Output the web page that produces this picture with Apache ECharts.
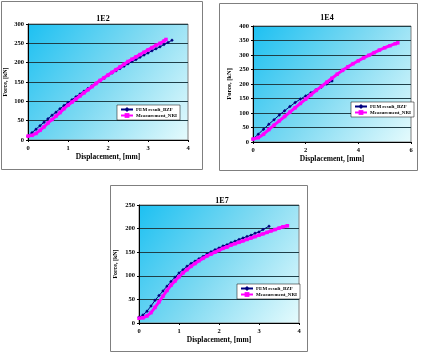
<!DOCTYPE html>
<html>
<head>
<meta charset="utf-8">
<script src="https://cdn.jsdelivr.net/npm/echarts@6/dist/echarts.min.js"></script>
<style>
  html, body { margin: 0; padding: 0; background: #fff; }
  #main { width: 428px; height: 356px; }
</style>
</head>
<body>
<div id="main"></div>
<script>
// 1E2
var fem1E2X = [0, 0.1, 0.2, 0.3, 0.4, 0.5, 0.6, 0.7, 0.8, 0.9, 1.0, 1.1, 1.2, 1.3, 1.4, 1.5, 1.6, 1.7, 1.8, 1.9, 2.0, 2.1, 2.2, 2.3, 2.4, 2.5, 2.6, 2.7, 2.8, 2.9, 3.0, 3.1, 3.2, 3.3, 3.4, 3.5, 3.6];
var fem1E2Y = [10, 19, 28, 37, 46, 55, 64, 72, 81, 89, 97, 104, 112, 119, 126, 133, 140, 147, 154, 160, 167, 173, 179, 185, 191, 197, 203, 208, 214, 220, 225, 231, 236, 241, 247, 252, 258];
var meas1E2X = [0, 0.1, 0.2, 0.3, 0.4, 0.5, 0.6, 0.7, 0.8, 0.9, 1.0, 1.1, 1.2, 1.3, 1.4, 1.5, 1.6, 1.7, 1.8, 1.9, 2.0, 2.1, 2.2, 2.3, 2.4, 2.5, 2.6, 2.7, 2.8, 2.9, 3.0, 3.1, 3.2, 3.3, 3.4, 3.45];
var meas1E2Y = [10, 12, 17, 25, 34, 44, 53, 62, 71, 81, 90, 98, 106, 114, 122, 130, 138, 146, 154, 161, 168, 175, 182, 189, 196, 203, 209, 215, 221, 227, 233, 239, 245, 250, 256, 260];

// 1E4
var fem1E4X = [0, 0.2, 0.4, 0.6, 0.8, 1.0, 1.2, 1.4, 1.6, 1.8, 2.0, 2.2, 2.4, 2.6, 2.8, 3.0];
var fem1E4Y = [10, 27, 44, 61, 77, 93, 108, 122, 136, 148, 159, 170, 180, 190, 200, 210];
var meas1E4X = [0, 0.2, 0.4, 0.6, 0.8, 1.0, 1.2, 1.4, 1.6, 1.8, 2.0, 2.2, 2.4, 2.6, 2.8, 3.0, 3.2, 3.4, 3.6, 3.8, 4.0, 4.2, 4.4, 4.6, 4.8, 5.0, 5.2, 5.4, 5.5];
var meas1E4Y = [10, 15, 27, 43, 58, 73, 88, 103, 118, 133, 148, 163, 178, 192, 206, 220, 234, 247, 259, 270, 280, 290, 299, 308, 317, 325, 332, 339, 342];

// 1E7
var fem1E7X = [0, 0.1, 0.2, 0.3, 0.4, 0.5, 0.6, 0.7, 0.8, 0.9, 1.0, 1.1, 1.2, 1.3, 1.4, 1.5, 1.6, 1.7, 1.8, 1.9, 2.0, 2.1, 2.2, 2.3, 2.4, 2.5, 2.6, 2.7, 2.8, 2.9, 3.0, 3.1, 3.25];
var fem1E7Y = [12, 17, 25, 36, 48, 58, 68, 78, 88, 97, 106, 113, 120, 126, 131, 136, 141, 146, 151, 155, 159, 163, 166, 170, 173, 177, 180, 183, 186, 190, 193, 198, 205];
var meas1E7X = [0, 0.1, 0.2, 0.3, 0.4, 0.5, 0.6, 0.7, 0.8, 0.9, 1.0, 1.1, 1.2, 1.3, 1.4, 1.5, 1.6, 1.7, 1.8, 1.9, 2.0, 2.1, 2.2, 2.3, 2.4, 2.5, 2.6, 2.7, 2.8, 2.9, 3.0, 3.1, 3.2, 3.3, 3.4, 3.5, 3.6, 3.71];
var meas1E7Y = [10, 11, 15, 22, 33, 45, 57, 69, 80, 89, 98, 106, 113, 120, 126, 132, 137, 142, 146, 150, 154, 158, 161, 165, 168, 171, 174, 177, 180, 183, 186, 189, 192, 195, 198, 201, 204, 206];

var titles = ['1E2', '1E4', '1E7'];
var xMax = [4, 6, 4];
var xStep = [1, 2, 1];
var yMax = [300, 400, 250];
var legendNames = ['FEM result_BZF', 'Measurement_NRI'];

function zip(xs, ys) {
  var out = [];
  for (var i = 0; i < xs.length; i++) out.push([xs[i], ys[i]]);
  return out;
}

var femData = [zip(fem1E2X, fem1E2Y), zip(fem1E4X, fem1E4Y), zip(fem1E7X, fem1E7Y)];
var measData = [zip(meas1E2X, meas1E2Y), zip(meas1E4X, meas1E4Y), zip(meas1E7X, meas1E7Y)];

var serif = '"Liberation Serif", "DejaVu Serif", serif';

// panel layout: frame, plot, title, legend
var panels = [
  { frame: [1, 1, 201, 168], grid: [28, 24, 160, 116], title: [98, 10], legend: [117, 105], nameGap: 20, nameSize: 6 },
  { frame: [219, 3, 198, 167], grid: [253, 26, 158, 116], title: [322, 9], legend: [351, 102], nameGap: 20, nameSize: 6.5 },
  { frame: [110, 185, 197, 166], grid: [139, 205, 160, 118], title: [217, 192], legend: [237, 284], nameGap: 21, nameSize: 6 }
];

var bg = new echarts.graphic.LinearGradient(0, 0, 1, 1, [
  { offset: 0, color: '#1cc0f2' },
  { offset: 0.5, color: '#80daf2' },
  { offset: 1, color: '#e6fbfd' }
]);

var option = {
  backgroundColor: '#fff',
  animation: false,
  title: [], grid: [], xAxis: [], yAxis: [], series: [], legend: [],
  graphic: []
};

panels.forEach(function (p, i) {
  option.graphic.push({
    type: 'rect',
    shape: { x: p.frame[0] + 0.5, y: p.frame[1] + 0.5, width: p.frame[2], height: p.frame[3] },
    style: { fill: 'none', stroke: '#7f7f7f', lineWidth: 1 },
    z: -1
  });
  option.title.push({
    text: titles[i],
    left: p.title[0], top: p.title[1],
    textAlign: 'center',
    textStyle: { fontFamily: serif, fontSize: 8, fontWeight: 'bold', color: '#000' }
  });
  option.grid.push({
    left: p.grid[0], top: p.grid[1], width: p.grid[2], height: p.grid[3],
    show: true, backgroundColor: bg, borderColor: '#808080', borderWidth: 1
  });
  option.xAxis.push({
    type: 'value', gridIndex: i, min: 0, max: xMax[i], interval: xStep[i],
    name: 'Displacement, [mm]', nameLocation: 'middle', nameGap: 13,
    nameTextStyle: { fontFamily: serif, fontSize: 7.5, fontWeight: 'bold', color: '#000' },
    axisLine: { lineStyle: { color: '#000', width: 1 } },
    axisTick: { show: true, length: 2, lineStyle: { color: '#000' } },
    axisLabel: { fontFamily: serif, fontSize: 6.5, fontWeight: 'bold', color: '#000', margin: 5 },
    splitLine: { show: false }
  });
  option.yAxis.push({
    type: 'value', gridIndex: i, min: 0, max: yMax[i], interval: 50,
    name: 'Force, [kN]', nameLocation: 'middle', nameGap: p.nameGap, nameRotate: 90,
    nameTextStyle: { fontFamily: serif, fontSize: p.nameSize, fontWeight: 'bold', color: '#000' },
    axisLine: { show: true, lineStyle: { color: '#000', width: 1 } },
    axisTick: { show: true, length: 2, lineStyle: { color: '#000' } },
    axisLabel: { fontFamily: serif, fontSize: 6.5, fontWeight: 'bold', color: '#000', margin: 4 },
    splitLine: { show: true, lineStyle: { color: '#1f3f48', width: 1 } }
  });
  option.series.push({
    name: legendNames[0], type: 'line', xAxisIndex: i, yAxisIndex: i,
    data: femData[i],
    symbol: 'diamond', symbolSize: 3.5, showSymbol: true,
    lineStyle: { color: '#000080', width: 1 },
    itemStyle: { color: '#000080' },
    z: 2
  });
  option.series.push({
    name: legendNames[1], type: 'line', xAxisIndex: i, yAxisIndex: i,
    data: measData[i],
    symbol: 'rect', symbolSize: 3.5, showSymbol: true,
    lineStyle: { color: '#ff00ff', width: 3 },
    itemStyle: { color: '#ff00ff' },
    z: 3
  });
  option.legend.push({
    data: legendNames,
    orient: 'vertical',
    left: p.legend[0], top: p.legend[1],
    backgroundColor: '#fff', borderColor: '#000', borderWidth: 0.5,
    padding: [2, 3], itemGap: 1, itemWidth: 12, itemHeight: 6,
    selectedMode: false,
    textStyle: { fontFamily: serif, fontSize: 5, fontWeight: 'bold', color: '#000', padding: [0, 0, 0, -2] }
  });
});

var chart = echarts.init(document.getElementById('main'), null, { renderer: 'canvas' });
chart.setOption(option);
</script>
</body>
</html>
